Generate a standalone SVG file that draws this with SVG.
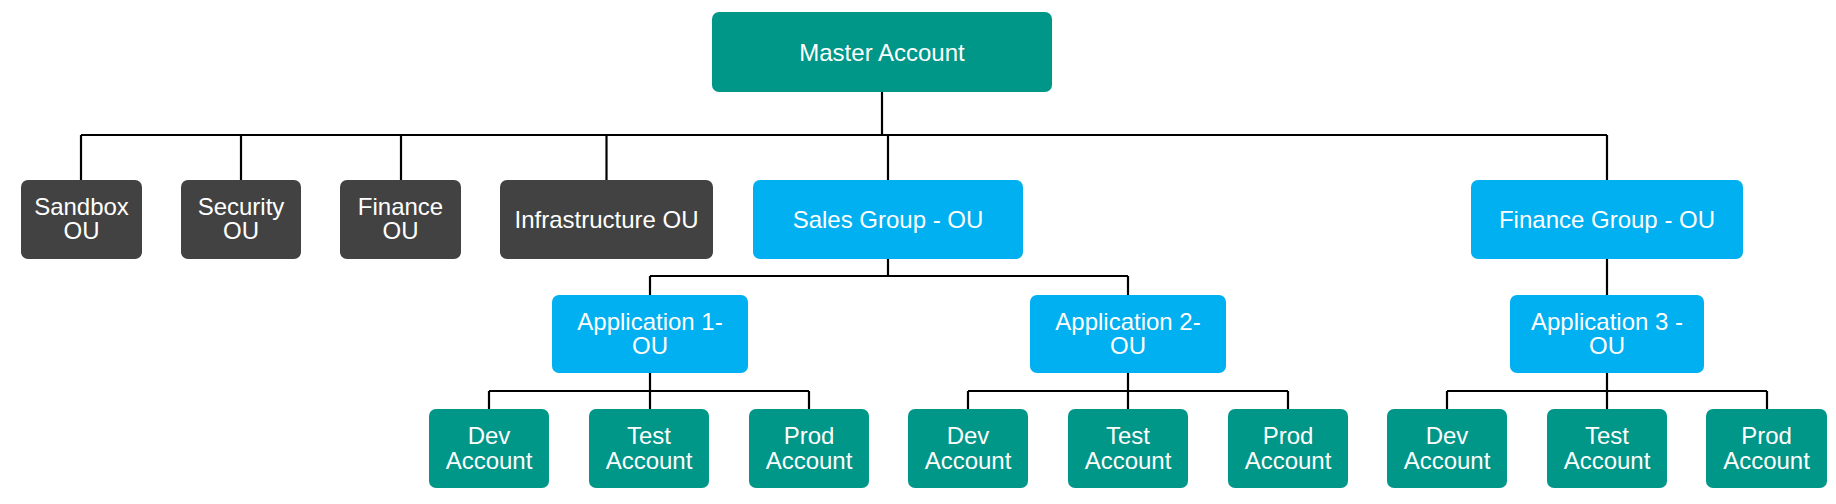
<svg xmlns="http://www.w3.org/2000/svg" width="1836" height="504" viewBox="0 0 1836 504">
<style>
.teal{fill:#009688}
.dark{fill:#424242}
.blue{fill:#00B0F0}
text{font-family:"Liberation Sans",Arial,sans-serif;font-size:24px;fill:#fff;text-anchor:middle}
.c{fill:none;stroke:#000;stroke-width:2.2}
</style>
<rect width="1836" height="504" fill="#fff"/>
<g id="connectors">
<path class="c" d="M882 92V135" stroke-width="3"/>
<path class="c" d="M81 135H1607M81 135V180M241 135V180M401 135V180M606.5 135V180M888 135V180M1607 135V180"/>
<path class="c" d="M888 259V276M650 276H1128M650 276V295M1128 276V295M1607 259V295"/>
<path class="c" d="M650 373V409M489 391H809M489 391V409M809 391V409"/>
<path class="c" d="M1128 373V409M968 391H1288M968 391V409M1288 391V409"/>
<path class="c" d="M1607 373V409M1447 391H1767M1447 391V409M1767 391V409"/>
</g>
<g id="master"><rect class="teal" x="712" y="12" width="340" height="80" rx="7"/><text x="882" y="60.5">Master Account</text></g>
<g id="sandbox"><rect class="dark" x="21" y="180" width="121" height="79" rx="7"/><text x="81.5" y="215">Sandbox</text><text x="81.5" y="239">OU</text></g>
<g id="security"><rect class="dark" x="181" y="180" width="120" height="79" rx="7"/><text x="241" y="215">Security</text><text x="241" y="239">OU</text></g>
<g id="finance"><rect class="dark" x="340" y="180" width="121" height="79" rx="7"/><text x="400.5" y="215">Finance</text><text x="400.5" y="239">OU</text></g>
<g id="infrastructure"><rect class="dark" x="500" y="180" width="213" height="79" rx="7"/><text x="606.5" y="228">Infrastructure OU</text></g>
<g id="sales"><rect class="blue" x="753" y="180" width="270" height="79" rx="7"/><text x="888" y="228">Sales Group - OU</text></g>
<g id="financegroup"><rect class="blue" x="1471" y="180" width="272" height="79" rx="7"/><text x="1607" y="228">Finance Group - OU</text></g>
<g id="app1"><rect class="blue" x="552" y="295" width="196" height="78" rx="7"/><text x="650" y="329.5">Application 1-</text><text x="650" y="353.5">OU</text></g>
<g id="app2"><rect class="blue" x="1030" y="295" width="196" height="78" rx="7"/><text x="1128" y="329.5">Application 2-</text><text x="1128" y="353.5">OU</text></g>
<g id="app3"><rect class="blue" x="1510" y="295" width="194" height="78" rx="7"/><text x="1607" y="329.5">Application 3 -</text><text x="1607" y="353.5">OU</text></g>
<g id="dev1"><rect class="teal" x="429" y="409" width="120" height="79" rx="7"/><text x="489" y="443.5">Dev</text><text x="489" y="468.5">Account</text></g>
<g id="test1"><rect class="teal" x="589" y="409" width="120" height="79" rx="7"/><text x="649" y="443.5">Test</text><text x="649" y="468.5">Account</text></g>
<g id="prod1"><rect class="teal" x="749" y="409" width="120" height="79" rx="7"/><text x="809" y="443.5">Prod</text><text x="809" y="468.5">Account</text></g>
<g id="dev2"><rect class="teal" x="908" y="409" width="120" height="79" rx="7"/><text x="968" y="443.5">Dev</text><text x="968" y="468.5">Account</text></g>
<g id="test2"><rect class="teal" x="1068" y="409" width="120" height="79" rx="7"/><text x="1128" y="443.5">Test</text><text x="1128" y="468.5">Account</text></g>
<g id="prod2"><rect class="teal" x="1228" y="409" width="120" height="79" rx="7"/><text x="1288" y="443.5">Prod</text><text x="1288" y="468.5">Account</text></g>
<g id="dev3"><rect class="teal" x="1387" y="409" width="120" height="79" rx="7"/><text x="1447" y="443.5">Dev</text><text x="1447" y="468.5">Account</text></g>
<g id="test3"><rect class="teal" x="1547" y="409" width="120" height="79" rx="7"/><text x="1607" y="443.5">Test</text><text x="1607" y="468.5">Account</text></g>
<g id="prod3"><rect class="teal" x="1706" y="409" width="121" height="79" rx="7"/><text x="1766.5" y="443.5">Prod</text><text x="1766.5" y="468.5">Account</text></g>
</svg>
